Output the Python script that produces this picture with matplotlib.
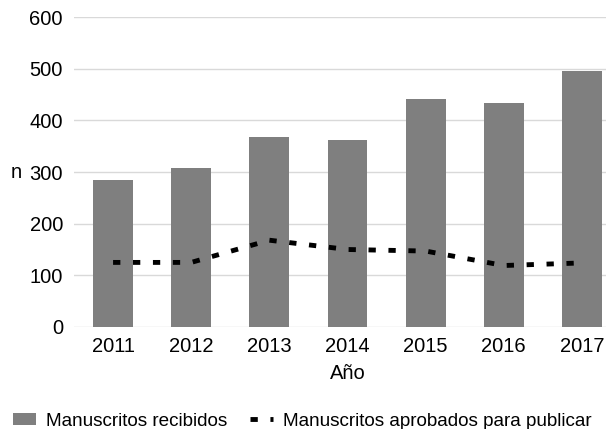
import matplotlib
matplotlib.use("Agg")
import matplotlib.pyplot as plt
import numpy as np

plt.rcParams['font.family'] = ['Liberation Sans', 'DejaVu Sans']

years = ["2011", "2012", "2013", "2014", "2015", "2016", "2017"]
recibidos = [284, 307, 367, 362, 441, 433, 495]
aprobados = [125, 125, 168, 150, 147, 119, 124]
yticks = [0, 100, 200, 300, 400, 500, 600]

fig = plt.figure(figsize=(6.06, 4.29), dpi=100)
ax = fig.add_axes([74/606, 102/429, 547/606, 310/429])

x = np.arange(len(years))
bars = ax.bar(x, recibidos, width=0.51, color="#7f7f7f", zorder=2,
              label="Manuscritos recibidos")
line, = ax.plot(x, aprobados, color="black", linewidth=3.5, dashes=(1.5, 2.6),
                zorder=3, label="Manuscritos aprobados para publicar")

ax.set_xlim(-0.5, len(years) - 0.5)
ax.set_ylim(0, 600)
ax.set_yticks(yticks)
ax.set_yticklabels([str(t) for t in yticks])
ax.set_xticks(x)
ax.set_xticklabels(years)
ax.tick_params(axis="both", length=0, labelsize=14.5, colors="black")
ax.tick_params(axis="y", pad=8)
ax.tick_params(axis="x", pad=7)
ax.yaxis.grid(True, color="#d9d9d9", linewidth=1.0, zorder=0)
ax.set_axisbelow(True)
for s in ax.spines.values():
    s.set_visible(False)

ax.set_xlabel("Año", fontsize=14.5, labelpad=6)
ax.set_ylabel("n", fontsize=14.5, rotation=0, va="center", ha="center")
ax.yaxis.set_label_coords(-0.106, 0.5)

fig.legend([bars, line], [bars.get_label(), line.get_label()],
           loc="lower left", bbox_to_anchor=(0.015, -0.01),
           ncol=2, frameon=False, fontsize=13.6, handlelength=1.2,
           handleheight=0.6, handletextpad=0.55, columnspacing=1.2,
           borderaxespad=0.0, borderpad=0.2)

fig.savefig("out.png", dpi=100)
